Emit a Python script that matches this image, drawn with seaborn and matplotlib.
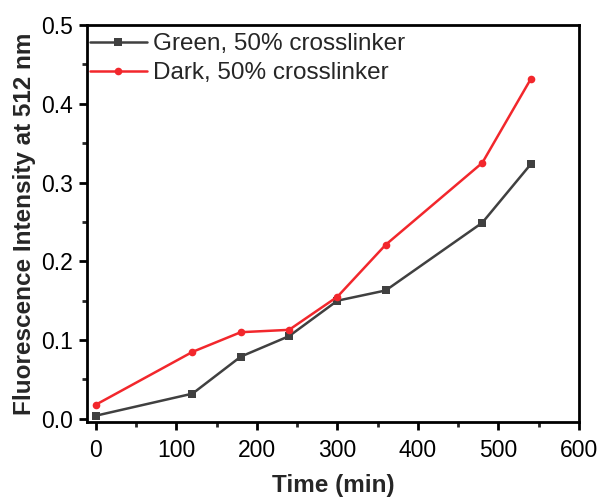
import matplotlib
matplotlib.use("Agg")
import matplotlib.pyplot as plt
import seaborn as sns
import pandas as pd
from matplotlib.ticker import MultipleLocator

time_min = [0, 120, 180, 240, 300, 360, 480, 540]
green_vals = [0.004, 0.032, 0.079, 0.105, 0.150, 0.163, 0.249, 0.323]
dark_vals = [0.018, 0.085, 0.110, 0.113, 0.155, 0.221, 0.325, 0.431]
series_names = ["Green, 50% crosslinker", "Dark, 50% crosslinker"]
y_tick_labels = ["0.0", "0.1", "0.2", "0.3", "0.4", "0.5"]

sns.set_style("ticks")
plt.rcParams['font.family'] = ['Liberation Sans', 'DejaVu Sans']

df = pd.DataFrame({
    "Time": time_min * 2,
    "Value": green_vals + dark_vals,
    "Series": [series_names[0]] * len(time_min) + [series_names[1]] * len(time_min),
})

fig = plt.figure(figsize=(6.03, 5.0), dpi=100)
ax = fig.add_axes([0.1443, 0.156, 0.8157, 0.794])

palette = {series_names[0]: "#404040", series_names[1]: "#f2272c"}
markers = {series_names[0]: "s", series_names[1]: "o"}
sns.lineplot(data=df, x="Time", y="Value", hue="Series", style="Series",
             palette=palette, markers=markers, dashes=False, markersize=5.5,
             linewidth=1.8, markeredgewidth=0, ax=ax)

ax.set_xlim(-11, 600)
ax.set_ylim(-0.004, 0.5)
ax.xaxis.set_major_locator(MultipleLocator(100))
ax.xaxis.set_minor_locator(MultipleLocator(50))
ax.set_yticks([0.0, 0.1, 0.2, 0.3, 0.4, 0.5])
ax.set_yticklabels(y_tick_labels)
ax.yaxis.set_minor_locator(MultipleLocator(0.05))

for s in ax.spines.values():
    s.set_linewidth(2)
    s.set_color("black")
ax.tick_params(which="major", direction="out", length=6, width=2, labelsize=16.5,
               colors="black", pad=4)
ax.tick_params(axis="x", which="major", pad=6)
ax.tick_params(which="minor", direction="out", length=3.5, width=2)
ax.tick_params(top=False, right=False)

ax.set_xlabel("Time (min)", fontsize=17.5, fontweight="bold", labelpad=9)
ax.set_ylabel("Fluorescence Intensity at 512 nm", fontsize=17.5, fontweight="bold", labelpad=4)

leg = ax.legend(loc="upper left", bbox_to_anchor=(0.0, 0.987), frameon=False, fontsize=17.5,
                handlelength=2.35, borderaxespad=0.0, handletextpad=0.25,
                labelspacing=0.3, borderpad=0.12)

fig.savefig("out.png", dpi=100)
